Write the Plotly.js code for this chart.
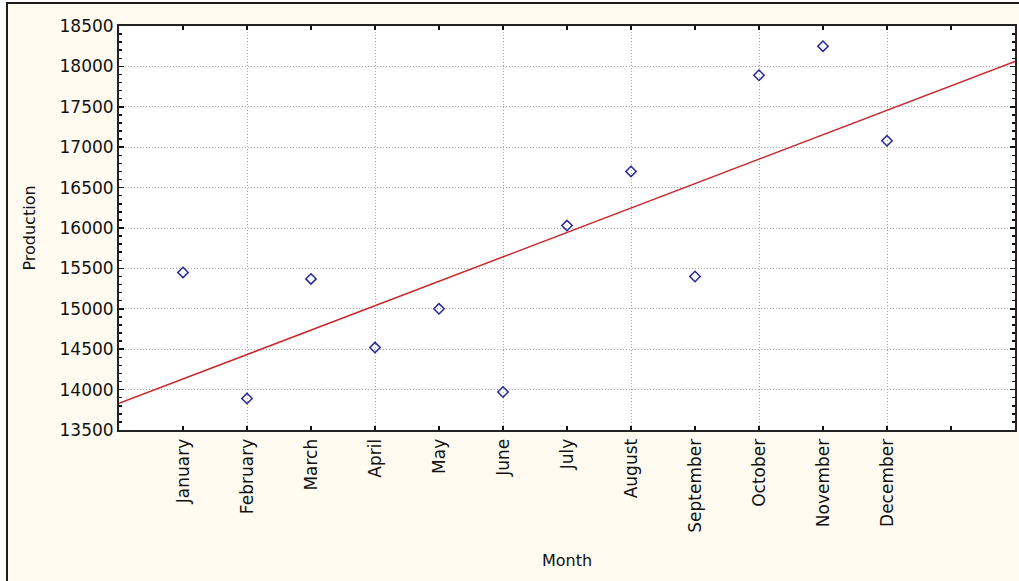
<!DOCTYPE html>
<html>
<head>
<meta charset="utf-8">
<script src="https://cdn.plot.ly/plotly-3.0.1.min.js"></script>
<style>
  html, body { margin: 0; padding: 0; background: #ffffff; }
  #wrap { position: relative; width: 1019px; height: 581px; overflow: hidden; }
  #chart { position: absolute; left: 0; top: 0; width: 1019px; height: 581px; }
  .ov { position: absolute; pointer-events: none; }
</style>
</head>
<body>
<div id="wrap">
  <div id="chart"></div>
  <div class="ov" style="left:0;top:0;width:6px;height:581px;background:#ffffff;"></div>
  <div class="ov" style="left:0;top:0;width:1019px;height:2px;background:#ffffff;"></div>
  <div class="ov" style="left:6px;top:2px;width:1013px;height:579px;border-left:2px solid #1c1c1c;border-top:2px solid #1c1c1c;box-sizing:border-box;"></div>
</div>
<script>
// Data
const months = ["January","February","March","April","May","June","July","August","September","October","November","December"];
const monthIndex = [1,2,3,4,5,6,7,8,9,10,11,12];
const production = [15450,13890,15370,14520,15000,13970,16030,16700,15400,17890,18250,17080];
// fitted trend line, end points
const fitX = [0,14];
const fitY = [13830,18060];

const tickVals = monthIndex.concat([13]);
const tickText = months.concat([""]);

const cream = "#fffbf0";
const font = "DejaVu Sans, Verdana, sans-serif";

const traces = [
  {
    x: monthIndex, y: production, type: "scatter", mode: "markers",
    xaxis: "x", yaxis: "y",
    marker: { symbol: "diamond-open", size: 8, color: "#2626a0", line: { width: 1.5, color: "#2626a0" } },
    showlegend: false
  },
  {
    x: fitX, y: fitY, type: "scatter", mode: "lines",
    xaxis: "x2", yaxis: "y",
    line: { color: "#c8282c", width: 1.5 },
    hoverinfo: "skip", showlegend: false
  }
];

const layout = {
  width: 1019, height: 581,
  margin: { l: 119, r: 4, t: 26, b: 151 },
  paper_bgcolor: cream,
  plot_bgcolor: "#ffffff",
  showlegend: false,
  font: { family: font, size: 16, color: "#111111" },
  xaxis: {
    range: [0, 14],
    tickmode: "array", tickvals: tickVals, ticktext: tickText,
    tickangle: -90,
    ticks: "inside", ticklen: 4, tickwidth: 1.5, tickcolor: "#111111",
    showline: true, linewidth: 2, linecolor: "#222222", mirror: "ticks",
    showgrid: false, zeroline: false,
    tickfont: { family: font, size: 17, color: "#111111" },
    title: { text: "Month", font: { family: font, size: 16, color: "#111111" }, standoff: 23 },
    fixedrange: true
  },
  xaxis2: {
    overlaying: "x", range: [0, 14], side: "bottom",
    tickmode: "array", tickvals: [2,4,6,8,10,12],
    showticklabels: false, ticks: "",
    showgrid: true, gridcolor: "#a8a8a8", griddash: "1px,2px", gridwidth: 1,
    showline: false, zeroline: false, fixedrange: true
  },
  yaxis: {
    range: [13500, 18500],
    tickmode: "linear", tick0: 13500, dtick: 500, tickformat: "d",
    ticks: "inside", ticklen: 5, tickwidth: 1.5, tickcolor: "#111111",
    minor: { dtick: 100, ticks: "inside", ticklen: 3, tickcolor: "#111111", showgrid: false },
    showline: true, linewidth: 2, linecolor: "#222222", mirror: "ticks",
    showgrid: true, gridcolor: "#a8a8a8", griddash: "1px,2px", gridwidth: 1,
    zeroline: false,
    tickfont: { family: font, size: 17, color: "#111111" },
    title: { text: "Production", font: { family: font, size: 16, color: "#111111" }, standoff: 20 },
    fixedrange: true
  }
};

Plotly.newPlot("chart", traces, layout, { staticPlot: true, displayModeBar: false });
</script>
</body>
</html>
